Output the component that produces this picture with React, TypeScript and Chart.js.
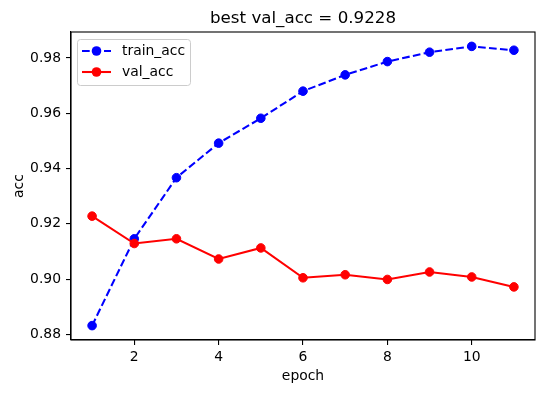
import React, { useEffect, useRef } from "react";
import { Chart, registerables } from "chart.js";

Chart.register(...registerables);

const epochs = [1, 2, 3, 4, 5, 6, 7, 8, 9, 10, 11];
const trainAcc = [0.8832, 0.9146, 0.9367, 0.9492, 0.9582, 0.968, 0.9739, 0.9787, 0.9821, 0.9842, 0.9828];
const valAcc = [0.9228, 0.9129, 0.9146, 0.9073, 0.9113, 0.9005, 0.9016, 0.8999, 0.9026, 0.9008, 0.8972];
const xTicks = [2, 4, 6, 8, 10];
const yTicks = [0.88, 0.9, 0.92, 0.94, 0.96, 0.98];
const titleText = "best val_acc = 0.9228";
const xLabel = "epoch";
const yLabel = "acc";
const legendLabels = ["train_acc", "val_acc"];

const FONT = "'DejaVu Sans', sans-serif";
const FS = 13.9;

const decorPlugin = {
  id: "decor",
  afterDraw(chart: any) {
    const { ctx, chartArea } = chart;
    const { left, right, top, bottom } = chartArea;
    ctx.save();
    // frame
    ctx.strokeStyle = "#000";
    ctx.lineWidth = 1.1;
    ctx.strokeRect(left, top, right - left, bottom - top);
    // title
    ctx.fillStyle = "#000";
    ctx.font = `16.7px ${FONT}`;
    ctx.textAlign = "center";
    ctx.textBaseline = "alphabetic";
    ctx.fillText(titleText, (left + right) / 2, 22.5);
    // x label
    ctx.font = `${FS}px ${FONT}`;
    ctx.fillText(xLabel, (left + right) / 2, 380);
    // y label
    ctx.save();
    ctx.translate(22.5, (top + bottom) / 2);
    ctx.rotate(-Math.PI / 2);
    ctx.fillText(yLabel, 0, 0);
    ctx.restore();
    // legend
    const bx = left + 6, by = top + 7, bw = 113, bh = 46;
    ctx.beginPath();
    (ctx as any).roundRect(bx + 0.5, by + 0.5, bw, bh, 3);
    ctx.fillStyle = "rgba(255,255,255,0.8)";
    ctx.fill();
    ctx.strokeStyle = "#cccccc";
    ctx.lineWidth = 1;
    ctx.stroke();
    const rows = [
      { label: legendLabels[0], color: "#0000ff", dash: [7.7, 3.3], y: by + 12 },
      { label: legendLabels[1], color: "#ff0000", dash: [], y: by + 33 },
    ];
    for (const r of rows) {
      ctx.strokeStyle = r.color;
      ctx.lineWidth = 2.08;
      ctx.setLineDash(r.dash);
      ctx.beginPath();
      ctx.moveTo(left + 11, r.y);
      ctx.lineTo(left + 40, r.y);
      ctx.stroke();
      ctx.setLineDash([]);
      ctx.beginPath();
      ctx.arc(left + 25.5, r.y, 4.8, 0, Math.PI * 2);
      ctx.fillStyle = r.color;
      ctx.fill();
      ctx.fillStyle = "#000";
      ctx.font = `${FS}px ${FONT}`;
      ctx.textAlign = "left";
      ctx.textBaseline = "middle";
      ctx.fillText(r.label, left + 51, r.y);
    }
    ctx.restore();
  },
};

export default function App() {
  const ref = useRef<HTMLCanvasElement>(null);
  useEffect(() => {
    if (!ref.current) return;
    const chart = new Chart(ref.current, {
      type: "line",
      data: {
        datasets: [
          {
            label: legendLabels[0],
            data: epochs.map((e, i) => ({ x: e, y: trainAcc[i] })),
            borderColor: "#0000ff",
            backgroundColor: "#0000ff",
            borderWidth: 2.08,
            borderDash: [7.7, 3.3],
            pointRadius: 4.3,
            pointBorderWidth: 1,
            pointBorderColor: "#0000ff",
            pointBackgroundColor: "#0000ff",
            tension: 0,
            order: 2,
          },
          {
            label: legendLabels[1],
            data: epochs.map((e, i) => ({ x: e, y: valAcc[i] })),
            borderColor: "#ff0000",
            backgroundColor: "#ff0000",
            borderWidth: 2.08,
            pointRadius: 4.3,
            pointBorderWidth: 1,
            pointBorderColor: "#ff0000",
            pointBackgroundColor: "#ff0000",
            tension: 0,
            order: 1,
          },
        ],
      },
      options: {
        animation: false,
        responsive: true,
        maintainAspectRatio: false,
        layout: { padding: { top: 32, right: 10, left: 0, bottom: 0 } },
        plugins: { legend: { display: false }, title: { display: false }, tooltip: { enabled: false } },
        scales: {
          x: {
            type: "linear",
            min: 0.5,
            max: 11.5,
            afterBuildTicks: (s: any) => {
              s.ticks = xTicks.map((v) => ({ value: v }));
            },
            afterFit: (s: any) => {
              s.height = 53;
            },
            grid: { drawOnChartArea: false, drawTicks: true, tickLength: 5, color: "#000", lineWidth: 1.1 },
            border: { display: true, color: "#000", width: 1.1 },
            ticks: {
              color: "#000",
              font: { family: FONT, size: FS },
              padding: 4,
              maxRotation: 0,
              callback: (v: any) => String(v),
            },
          },
          y: {
            type: "linear",
            min: 0.878,
            max: 0.9894,
            afterBuildTicks: (s: any) => {
              s.ticks = yTicks.map((v) => ({ value: v }));
            },
            afterFit: (s: any) => {
              s.width = 71;
            },
            grid: { drawOnChartArea: false, drawTicks: true, tickLength: 5, color: "#000", lineWidth: 1.1 },
            border: { display: true, color: "#000", width: 1.1 },
            ticks: {
              color: "#000",
              font: { family: FONT, size: FS },
              padding: 5,
              callback: (v: any) => Number(v).toFixed(2),
            },
          },
        },
      },
      plugins: [decorPlugin],
    });
    return () => chart.destroy();
  }, []);
  return (
    <div style={{ position: "absolute", left: 0, top: 0, width: 545, height: 393, background: "#fff" }}>
      <canvas ref={ref} />
    </div>
  );
}
